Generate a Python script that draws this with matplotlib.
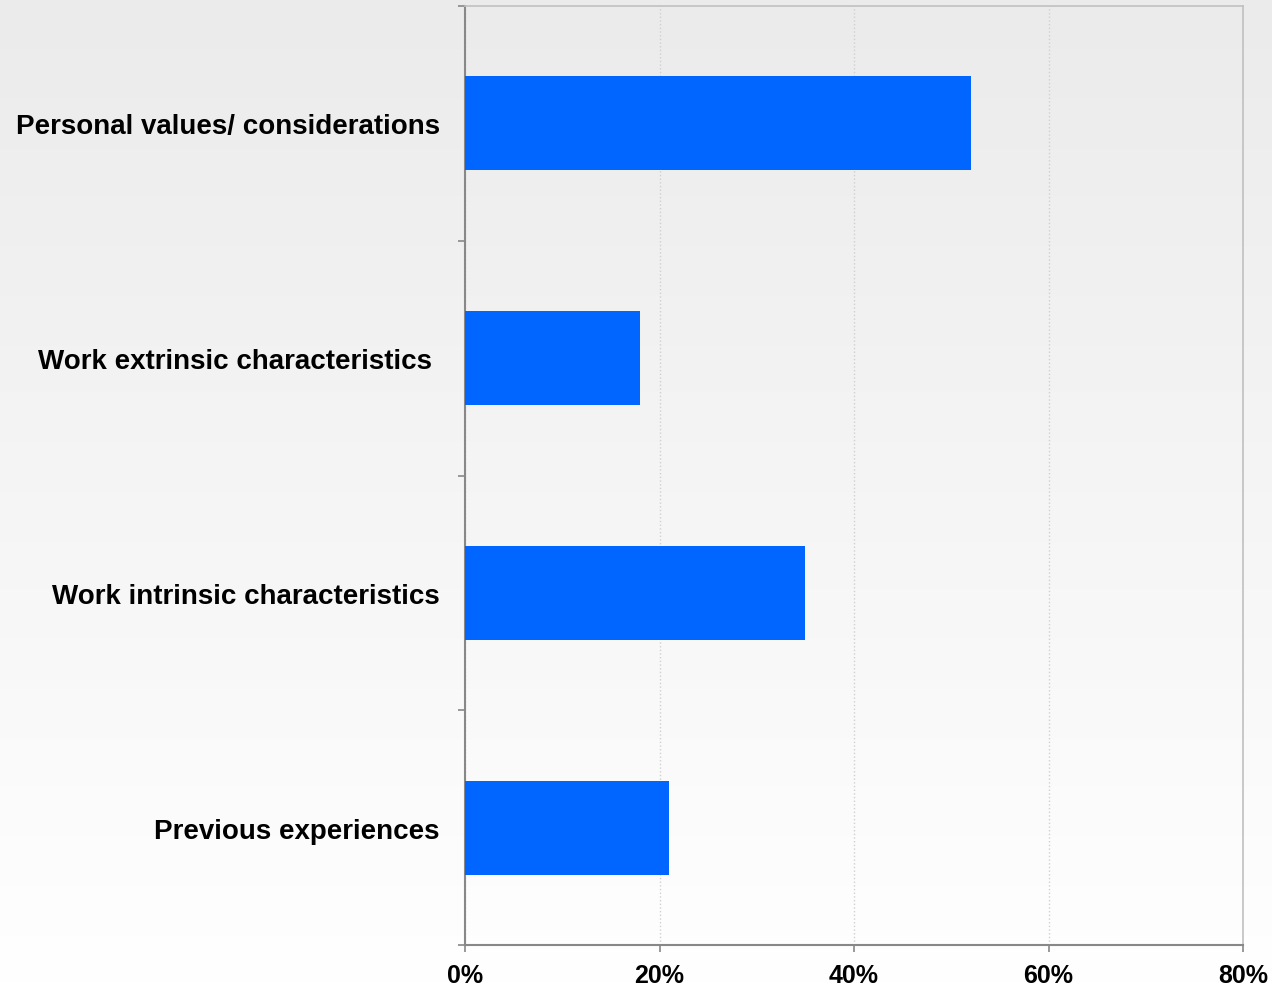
import matplotlib
matplotlib.use('Agg')
import matplotlib.pyplot as plt
import numpy as np

categories = ["Personal values/ considerations",
              "Work extrinsic characteristics ",
              "Work intrinsic characteristics",
              "Previous experiences"]
values = [52, 18, 35, 21]
xticks = [0, 20, 40, 60, 80]

plt.rcParams['font.family'] = ['Liberation Sans', 'DejaVu Sans']

fig = plt.figure(figsize=(12.72, 9.87), dpi=100)

# background gradient, light gray at top fading to white
bg = fig.add_axes([0, 0, 1, 1], zorder=-10)
grad = np.linspace(0, 1, 256).reshape(-1, 1)
bg.imshow(grad, aspect='auto', cmap=matplotlib.colors.LinearSegmentedColormap.from_list(
    'bg', ['#ebebeb', '#ffffff']), extent=[0, 1, 0, 1], origin='upper')
bg.axis('off')

ax = fig.add_axes([465 / 1272, 1 - 946 / 987, (1243 - 465) / 1272, (946 - 7) / 987])
ax.patch.set_alpha(0)

y = np.arange(len(categories))
ax.barh(y, values, height=0.4, color='#0066ff', zorder=3)
ax.set_ylim(len(categories) - 0.5, -0.5)
ax.set_xlim(0, 80)

ax.set_yticks(y)
ax.set_yticklabels(categories, fontsize=20, fontweight='bold')
ax.tick_params(axis='y', which='major', length=0, pad=18)
ax.set_yticks(np.arange(-0.5, len(categories)), minor=True)
ax.tick_params(axis='y', which='minor', length=5, color='#888888', width=1.2)

ax.set_xticks(xticks)
ax.set_xticklabels([f"{t}%" for t in xticks], fontsize=18, fontweight='bold')
ax.tick_params(axis='x', length=5, color='#888888', width=1.2, pad=8)

ax.grid(axis='x', linestyle=':', color='#d0d0d0', linewidth=1, zorder=0)

for side in ['left', 'bottom']:
    ax.spines[side].set_color('#888888')
    ax.spines[side].set_linewidth(1.5)
for side in ['top', 'right']:
    ax.spines[side].set_color('#c0c0c0')
    ax.spines[side].set_linewidth(1.2)

fig.savefig('out.png', dpi=100)
